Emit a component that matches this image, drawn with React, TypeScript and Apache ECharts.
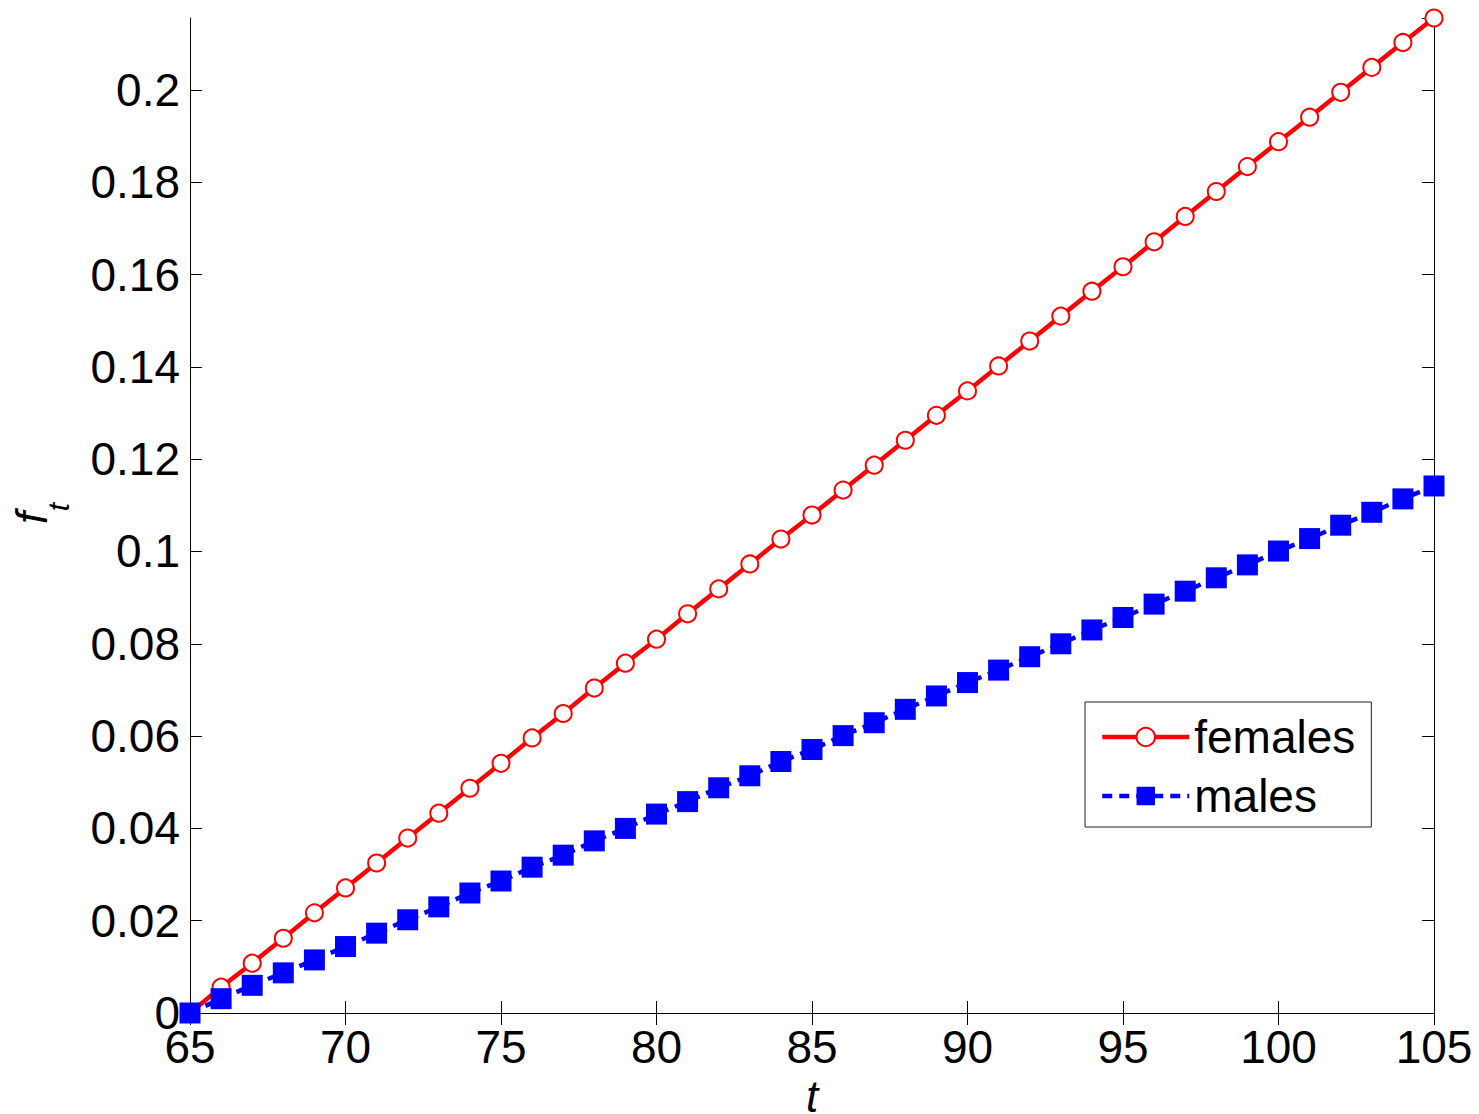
import React, { useEffect, useRef } from "react";
import * as echarts from "echarts";

const ages = [65, 66, 67, 68, 69, 70, 71, 72, 73, 74, 75, 76, 77, 78, 79, 80, 81, 82, 83, 84, 85, 86, 87, 88, 89, 90, 91, 92, 93, 94, 95, 96, 97, 98, 99, 100, 101, 102, 103, 104, 105];

const females = [0, 0.0056, 0.0108, 0.0162, 0.0217, 0.0271, 0.0325, 0.0379, 0.0433, 0.0487, 0.0541, 0.0596, 0.0649, 0.0704, 0.0758, 0.0810, 0.0865, 0.0919, 0.0973, 0.1027, 0.1079, 0.1133, 0.1187, 0.1241, 0.1295, 0.1348, 0.1402, 0.1456, 0.1510, 0.1564, 0.1617, 0.1671, 0.1726, 0.1780, 0.1834, 0.1888, 0.1941, 0.1995, 0.2049, 0.2103, 0.2156];

const males = [0, 0.0031, 0.0060, 0.0087, 0.0115, 0.0144, 0.0173, 0.0202, 0.0230, 0.0260, 0.0286, 0.0316, 0.0342, 0.0373, 0.0400, 0.0431, 0.0458, 0.0488, 0.0514, 0.0545, 0.0571, 0.0601, 0.0629, 0.0658, 0.0687, 0.0716, 0.0743, 0.0772, 0.0800, 0.0830, 0.0857, 0.0886, 0.0914, 0.0943, 0.0971, 0.1001, 0.1028, 0.1057, 0.1085, 0.1114, 0.1142];

const seriesNames = ["females", "males"];

const FONT = '"Liberation Sans", Arial, Helvetica, sans-serif';

export default function App() {
  const ref = useRef<HTMLDivElement>(null);

  useEffect(() => {
    if (!ref.current) return;
    const chart = echarts.init(ref.current, undefined, { renderer: "svg" });
    const yMax = Math.max(...females);
    const axisLine = { show: true, lineStyle: { color: "#000", width: 1 } };
    const tick = { show: true, inside: true, length: 12, lineStyle: { color: "#000", width: 1 } };
    const yFmt = (v: number) => {
      const k = v / 0.02;
      if (Math.abs(k - Math.round(k)) > 1e-6) return "";
      return String(+v.toFixed(2));
    };
    chart.setOption({
      animation: false,
      backgroundColor: "#fff",
      grid: { left: 190, right: 45, top: 18, bottom: 101, containLabel: false, outerBoundsMode: "none" },
      xAxis: [
        {
          type: "value",
          position: "bottom",
          min: 65,
          max: 105,
          interval: 5,
          axisLine,
          axisTick: tick,
          splitLine: { show: false },
          axisLabel: { color: "#000", fontSize: 46, fontFamily: FONT, margin: 11 },
          name: "t",
          nameLocation: "middle",
          nameGap: 59,
          nameTextStyle: { color: "#000", fontSize: 44, fontStyle: "italic", fontFamily: FONT },
        },
        {
          type: "value",
          position: "top",
          min: 65,
          max: 105,
          interval: 5,
          axisLine,
          axisTick: tick,
          splitLine: { show: false },
          axisLabel: { show: false },
        },
      ],
      yAxis: [
        {
          type: "value",
          position: "left",
          min: 0,
          max: yMax,
          interval: 0.02,
          axisLine,
          axisTick: tick,
          splitLine: { show: false },
          axisLabel: {
            color: "#000",
            fontSize: 46,
            fontFamily: FONT,
            margin: 10,
            showMaxLabel: false,
            formatter: yFmt,
          },
        },
        {
          type: "value",
          position: "right",
          min: 0,
          max: yMax,
          interval: 0.02,
          axisLine,
          axisTick: tick,
          splitLine: { show: false },
          axisLabel: { show: false },
        },
      ],
      legend: {
        orient: "vertical",
        left: 1085,
        top: 702,
        width: 284,
        padding: [10, 16, 6, 15],
        borderColor: "#222",
        borderWidth: 1,
        backgroundColor: "#fff",
        itemWidth: 87,
        itemHeight: 23,
        itemGap: 9,
        lineStyle: { width: 4.5 },
        textStyle: { color: "#000", fontSize: 46, fontFamily: FONT, lineHeight: 50 },
        data: seriesNames,
      },
      graphic: [
        {
          type: "text",
          x: 31,
          y: 518,
          rotation: Math.PI / 2,
          style: {
            text: "f",
            fill: "#000",
            fontSize: 44,
            fontStyle: "italic",
            fontFamily: FONT,
            align: "center",
            verticalAlign: "middle",
          },
        },
        {
          type: "text",
          x: 58,
          y: 507,
          rotation: Math.PI / 2,
          style: {
            text: "t",
            fill: "#000",
            fontSize: 30,
            fontStyle: "italic",
            fontFamily: FONT,
            align: "center",
            verticalAlign: "middle",
          },
        },
      ],
      series: [
        {
          name: seriesNames[0],
          type: "line",
          data: ages.map((a, i) => [a, females[i]]),
          symbol: "emptyCircle",
          symbolSize: 17,
          showSymbol: true,
          lineStyle: { color: "#ff0000", width: 4.5 },
          itemStyle: { color: "#ff0000", borderColor: "#ff0000", borderWidth: 4.5 },
          z: 2,
        },
        {
          name: seriesNames[1],
          type: "line",
          data: ages.map((a, i) => [a, males[i]]),
          symbol: "rect",
          symbolSize: 21,
          showSymbol: true,
          lineStyle: { color: "#0000ff", width: 4.5, type: [10, 7] },
          itemStyle: { color: "#0000ff" },
          z: 3,
        },
      ],
    });
    return () => chart.dispose();
  }, []);

  return (
    <div
      ref={ref}
      style={{ position: "absolute", left: 0, top: 0, width: 1479, height: 1114, background: "#fff" }}
    />
  );
}
